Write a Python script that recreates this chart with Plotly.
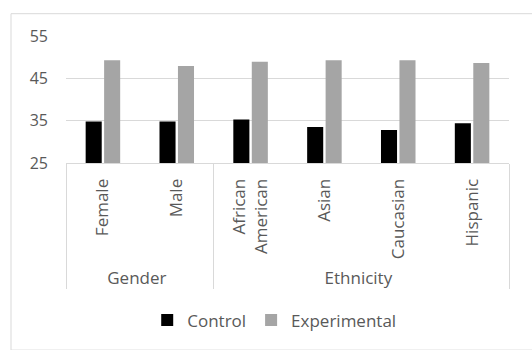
import plotly.graph_objects as go

groups = ["Gender", "Gender", "Ethnicity", "Ethnicity", "Ethnicity", "Ethnicity"]
categories = ["Female", "Male", "African<br>American", "Asian", "Caucasian", "Hispanic"]
control = [34.8, 34.8, 35.3, 33.5, 32.8, 34.4]
experimental = [49.3, 47.9, 48.9, 49.3, 49.3, 48.6]
y_ticks = [25, 35, 45, 55]

TXT = "#595959"
GRID = "#d9d9d9"
FONT = "Open Sans"

fig = go.Figure()
fig.add_trace(go.Bar(name="Control", x=[groups, categories], y=control,
                     marker=dict(color="#000000", line=dict(width=0))))
fig.add_trace(go.Bar(name="Experimental", x=[groups, categories], y=experimental,
                     marker=dict(color="#a5a5a5", line=dict(width=0))))

fig.update_layout(
    width=532, height=350,
    margin=dict(l=66, r=23, t=36, b=183),
    paper_bgcolor="white", plot_bgcolor="white",
    barmode="group", bargap=0.5, bargroupgap=0.13,
    font=dict(family=FONT, color=TXT, size=16),
    legend=dict(orientation="h", x=0.47, xanchor="center", y=-1.24, yanchor="middle",
                font=dict(size=17, color=TXT), itemwidth=30, traceorder="normal"),
    xaxis=dict(type="multicategory", tickangle=-90, showline=True, linecolor=GRID,
               linewidth=1, showdividers=True, dividercolor=GRID, dividerwidth=1,
               ticks="", ticklabelstandoff=8,
               tickfont=dict(size=17, color=TXT), automargin=False),
    yaxis=dict(range=[25, 55], tickvals=y_ticks, showgrid=True, gridcolor=GRID,
               gridwidth=1, zeroline=False, showline=False, ticks="",
               ticklabelstandoff=17,
               tickfont=dict(size=16, color=TXT), automargin=False),
    shapes=[dict(type="rect", xref="paper", yref="paper",
                 x0=(11 - 66) / 443, x1=(540 - 66) / 443,
                 y0=(167 - 360) / 131, y1=(167 - 13) / 131,
                 line=dict(color=GRID, width=1), layer="below")],
)

fig.write_html("out.html")
